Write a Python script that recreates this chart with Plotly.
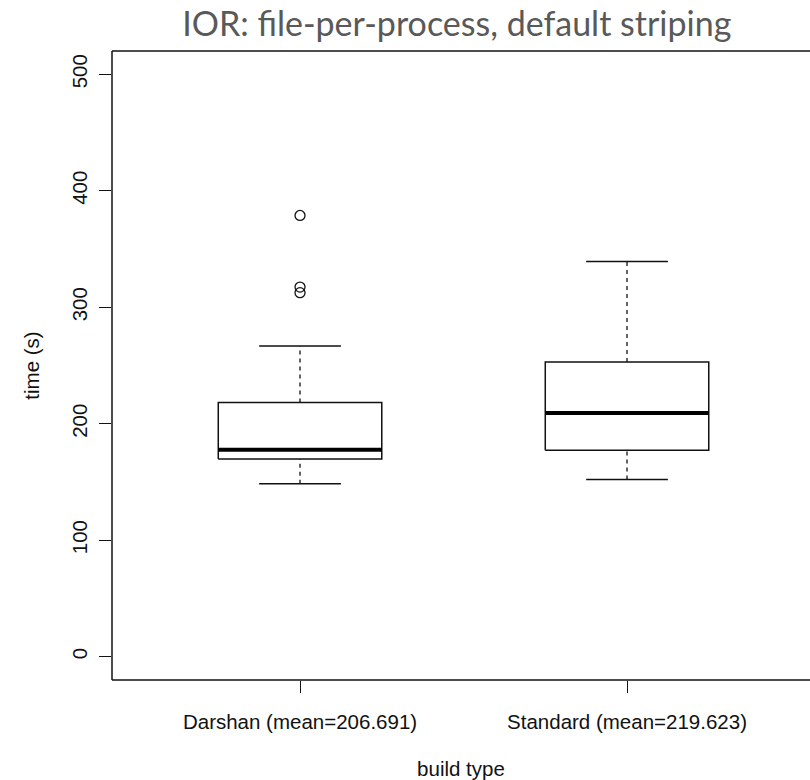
import plotly.graph_objects as go

# ---- data ----
categories = ["Darshan (mean=206.691)", "Standard (mean=219.623)"]
positions = [1, 2]
lower_whisker = [148.4, 152.1]
q1 = [169.8, 177.2]
median = [177.7, 209.2]
q3 = [218.3, 253.1]
upper_whisker = [266.8, 339.3]
outlier_pos = [1, 1, 1]
outlier_vals = [312.5, 317.3, 378.8]
y_ticks = [0, 100, 200, 300, 400, 500]

BOX_HALF = 0.25
CAP_HALF = 0.125
LINE = "#111111"

fig = go.Figure()

for p, lo, a, m, b, hi in zip(positions, lower_whisker, q1, median, q3, upper_whisker):
    # dashed whiskers
    fig.add_trace(go.Scatter(x=[p, p, None, p, p], y=[lo, a, None, b, hi], mode="lines",
                             line=dict(color=LINE, width=1.3, dash="4px,4px"),
                             hoverinfo="skip", showlegend=False))
    # caps
    fig.add_trace(go.Scatter(x=[p - CAP_HALF, p + CAP_HALF, None, p - CAP_HALF, p + CAP_HALF],
                             y=[lo, lo, None, hi, hi], mode="lines",
                             line=dict(color=LINE, width=1.5),
                             hoverinfo="skip", showlegend=False))
    # box
    fig.add_trace(go.Scatter(x=[p - BOX_HALF, p + BOX_HALF, p + BOX_HALF, p - BOX_HALF, p - BOX_HALF],
                             y=[a, a, b, b, a], mode="lines", fill="toself", fillcolor="white",
                             line=dict(color=LINE, width=1.5),
                             hoverinfo="skip", showlegend=False))
    # median
    fig.add_trace(go.Scatter(x=[p - BOX_HALF, p + BOX_HALF], y=[m, m], mode="lines",
                             line=dict(color="black", width=4),
                             hoverinfo="skip", showlegend=False))

fig.add_trace(go.Scatter(x=outlier_pos, y=outlier_vals, mode="markers",
                         marker=dict(symbol="circle-open", size=10, color=LINE, line=dict(width=1.3)),
                         hoverinfo="skip", showlegend=False))

tick_font = dict(family="Liberation Sans, Arial, sans-serif", size=20.5, color="#111111")

# R-style frame: the box's right side lies beyond the visible page, so hide the plot's right edge
fig.add_shape(type="line", xref="paper", yref="paper", x0=1, x1=1, y0=-0.01, y1=1.01,
              layer="above", line=dict(color="white", width=6))
fig.add_shape(type="line", xref="paper", yref="paper", x0=0, x1=1, y0=1, y1=1,
              layer="above", line=dict(color=LINE, width=1.5))
fig.add_shape(type="line", xref="paper", yref="paper", x0=0, x1=1, y0=0, y1=0,
              layer="above", line=dict(color=LINE, width=1.5))
fig.add_shape(type="line", xref="paper", yref="paper", x0=0, x1=0, y0=0, y1=1,
              layer="above", line=dict(color=LINE, width=1.5))

fig.update_layout(
    width=810, height=780,
    margin=dict(l=112, r=0, t=51, b=98),
    paper_bgcolor="white", plot_bgcolor="white",
    title=dict(text="IOR: file-per-process, default striping",
               font=dict(family="Lato, sans-serif", size=34, color="#595959"),
               x=0.494, xref="paper", xanchor="center", y=0.969, yref="container", yanchor="middle"),
    xaxis=dict(range=[0.425, 2.5596], tickmode="array", tickvals=positions, ticktext=categories,
               showgrid=False, zeroline=False, showline=False,
               ticks="outside", ticklen=12, tickwidth=1.3, tickcolor=LINE,
               tickfont=tick_font, ticklabelstandoff=11,
               title=dict(text="build type", font=tick_font, standoff=33)),
    yaxis=dict(range=[-20, 520], tickmode="array", tickvals=y_ticks,
               showgrid=False, zeroline=False, showline=False,
               ticks="outside", ticklen=12, tickwidth=1.3, tickcolor=LINE,
               tickangle=-90, tickfont=tick_font, ticklabelstandoff=4,
               title=dict(text="time (s)", font=tick_font, standoff=22)),
)

fig.write_html("out.html")
